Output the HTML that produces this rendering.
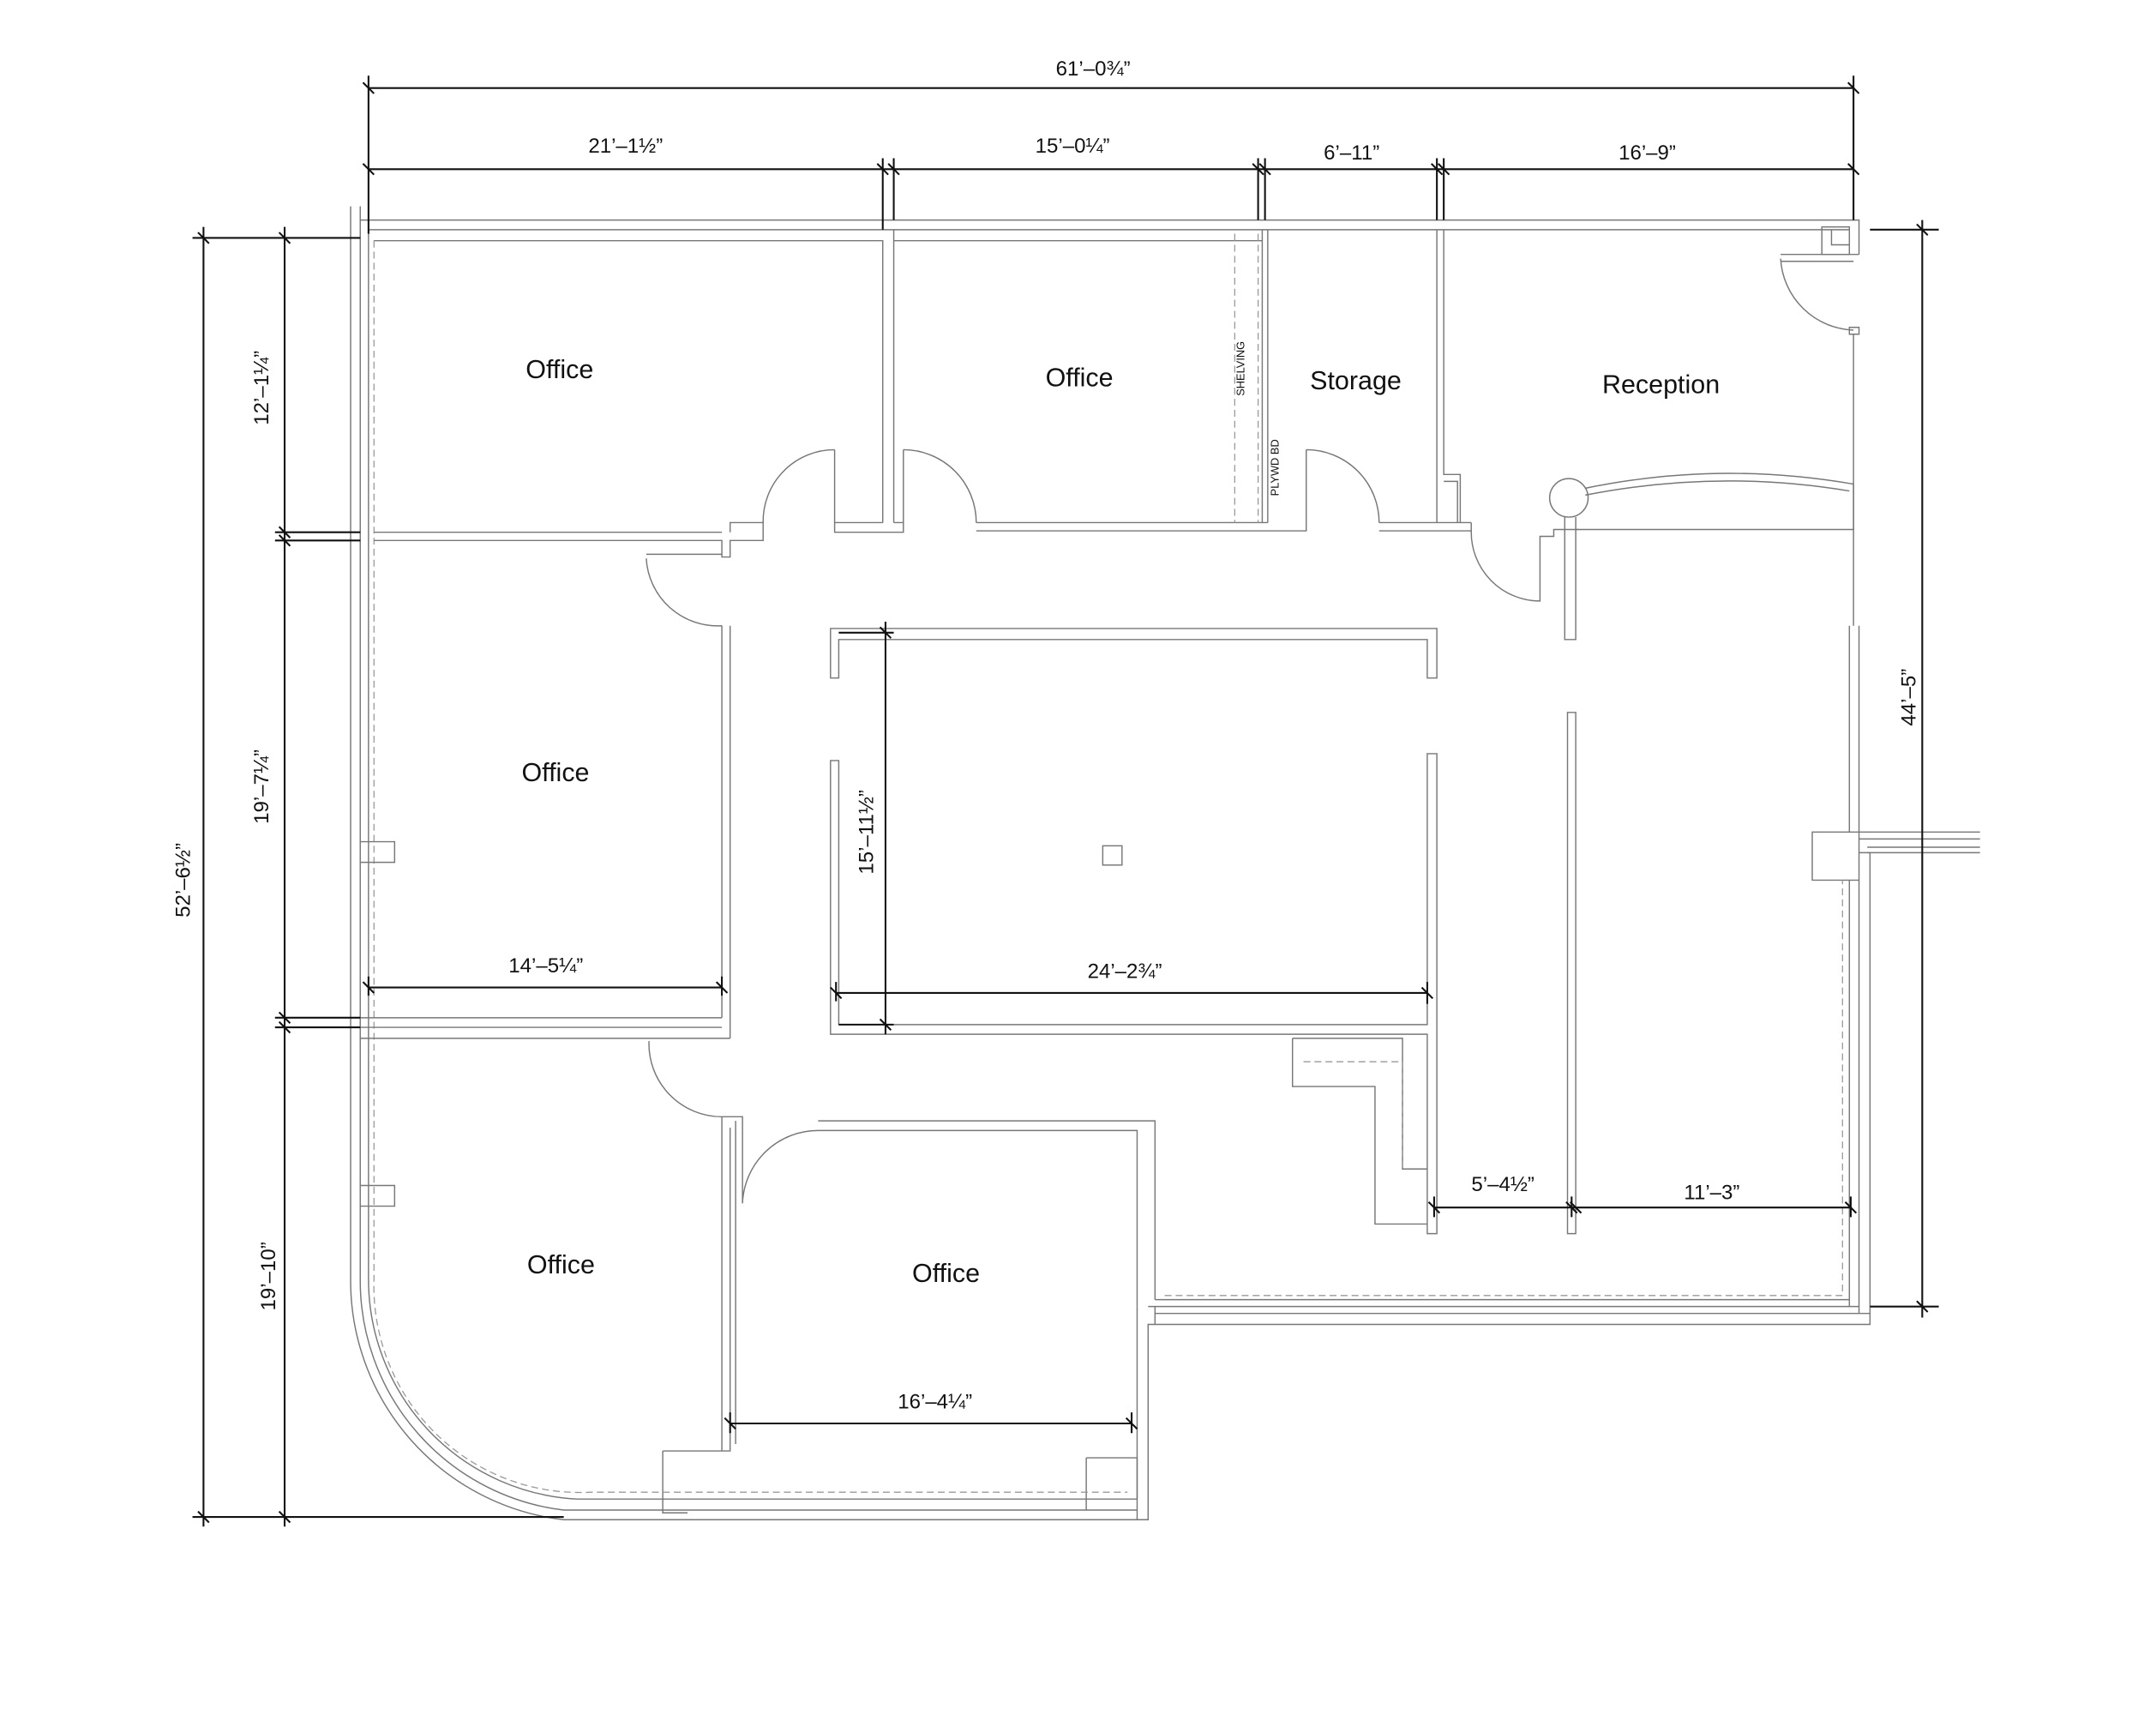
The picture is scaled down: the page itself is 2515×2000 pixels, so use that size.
<!DOCTYPE html>
<html><head><meta charset="utf-8"><style>
html,body{margin:0;padding:0;background:#fff;}
svg{display:block;}
text{font-family:"Liberation Sans",sans-serif;fill:#111;}
.w{fill:none;stroke:#777;stroke-width:0.9;}
.d{fill:none;stroke:#999;stroke-width:0.8;stroke-dasharray:5 3;}
.k{fill:none;stroke:#111;stroke-width:1.3;}
.t{fill:none;stroke:#111;stroke-width:1.3;}
.r{font-size:19px;}
.m{font-size:15px;}
</style></head><body>
<svg width="2515" height="2000" viewBox="0 0 1568 1247" preserveAspectRatio="none" xmlns="http://www.w3.org/2000/svg">
<g class="w">
<path d="M255,150 V930 A175,175 0 0 0 410,1105 H835 V963 H1360 V620"/>
<path d="M262,150 V930 A168,168 0 0 0 410,1098 H827"/>
<path d="M268,167 V930 A160,160 0 0 0 420,1090 H827"/>
<path d="M262,160 H1352 V185"/>
<path d="M268,167 H1345"/>
<path d="M1325,165 H1345 V185 H1325 Z M1332,167 V178 H1345"/>
<path d="M1295,185 H1352 M1295,190 H1348"/>
<path d="M1295,188 A55,55 0 0 0 1348,240 M1345,238 H1352 V243 H1345 Z"/>
<path d="M1348,243 V455 M1352,455 V605 M1345,455 V605"/>
<path d="M1318,605 H1352 V640 H1318 Z M1352,605 H1440 M1352,610 H1440 M1358,616 H1440 M1358,620 H1440"/>
<path d="M1345,640 V950 M1352,640 V955 M1360,620 H1352"/>
<path d="M840,945 H1345 M840,950 H1352 M840,955 H1360"/>
<path d="M827,950 V1090 M835,950 H840 V963"/>
<path d="M790,1060 H827 V1105 M790,1060 V1098"/>
<path d="M482,1055 V1100 H500"/>
</g>
<path class="d" d="M272,175 V930 A150,150 0 0 0 430,1085 H820"/>
<path class="d" d="M847,942 H1340 V640"/>
<g class="w">
<path d="M272,175 H642 V380 M650,167 V380 M642,380 H607 V387 H657 V380 H650"/>
<path d="M272,387 H525 M272,393 H525 V405 H531 V393 H555 V380 H531 V387"/>
<path d="M607,327 V380 M555,380 A52,52 0 0 1 607,327"/>
<path d="M650,175 H918 M657,327 V380 M657,327 A53,53 0 0 1 710,380"/>
<path d="M710,380 H922 M710,386 H950 V380"/>
<path d="M918,167 V380 M922,167 V380"/>
<path d="M950,327 V380 M950,327 A53,53 0 0 1 1003,380 M1003,380 H1070 M1003,386 H1070 V380"/>
<path d="M1045,167 V380 M1050,167 V345 H1062 V380 M1050,350 H1060 V380"/>
<path d="M1070,386 A50,50 0 0 0 1120,437 V390 H1130 V385 H1148"/>
<circle cx="1141" cy="362" r="14"/>
<path d="M1138,376 V465 H1146 V376"/>
<path d="M1153,355 Q1250,335 1348,352 V385 H1146 M1153,360 Q1250,341 1345,357"/>
<path d="M470,403 H525 M470,406 A52,52 0 0 0 525,455 M525,455 V740 M531,455 V755"/>
<path d="M262,740 H525 M262,747 H525 M262,755 H531"/>
<path d="M262,612 H287 V627 H262 M262,862 H287 V877 H262"/>
<path d="M472,757 A53,53 0 0 0 525,812 M525,812 V1055 M531,820 V1055 H482 M525,812 H540 V822 M535,815 V1050"/>
<path d="M540,822 V875 M540,875 A55,55 0 0 1 595,822 M595,815 H840 V945 M595,822 H827 V950"/>
<path d="M604,457 H1045 V493 H1038 V465 H610 V493 H604 Z"/>
<path d="M604,553 H610 V745 H1038 V548 H1045 V897 H1038 V752 H604 Z"/>
<path d="M940,755 H1020 V850 H1038 M940,755 V790 H1000 V890 H1038"/>
<path d="M1140,518 H1146 V897 H1140 Z"/>
<rect x="802" y="615" width="14" height="14"/>
</g>
<path class="d" d="M898,170 V380 M915,170 V380 M948,772 H1020 V850"/>
<text x="905" y="268" font-size="8" transform="rotate(-90 905 268)" text-anchor="middle" fill="#666">SHELVING</text>
<text x="930" y="340" font-size="8" transform="rotate(-90 930 340)" text-anchor="middle" fill="#666">PLYWD BD</text>
<text class="r" x="407" y="275" text-anchor="middle">Office</text>
<text class="r" x="785" y="281" text-anchor="middle">Office</text>
<text class="r" x="986" y="283" text-anchor="middle">Storage</text>
<text class="r" x="1208" y="286" text-anchor="middle">Reception</text>
<text class="r" x="404" y="568" text-anchor="middle">Office</text>
<text class="r" x="408" y="926" text-anchor="middle">Office</text>
<text class="r" x="688" y="932" text-anchor="middle">Office</text>
<g class="k">
<path d="M268,64 H1348 M268,123 H1348"/>
<path d="M268,55 V170 M642,115 V167 M650,115 V160 M915,115 V160 M920,115 V160 M1045,115 V160 M1050,115 V160 M1348,55 V160"/>
<path d="M140,173 H262 M200,387 H262 M200,393 H262 M200,740 H262 M200,747 H262 M140,1103 H410"/>
<path d="M148,165 V1110 M207,165 V1110"/>
<path d="M1360,167 H1410 M1360,950 H1410 M1398,160 V958"/>
<path d="M268,718 H525 M268,710 V724 M525,710 V724"/>
<path d="M608,722 H1038 M608,714 V728 M1038,714 V730"/>
<path d="M610,460 H650 M610,745 H650 M644,452 V752"/>
<path d="M1043,878 H1346 M1043,870 V885 M1143,870 V885 M1346,870 V885"/>
<path d="M531,1035 H823 M531,1027 V1042 M823,1027 V1042"/>
</g>
<g class="t">
<path d="M264,60 L272,68 M264,119 L272,127 M638,119 L646,127 M646,119 L654,127 M911,119 L919,127 M916,119 L924,127 M1041,119 L1049,127 M1046,119 L1054,127 M1344,60 L1352,68 M1344,119 L1352,127"/>
<path d="M144,169 L152,177 M203,169 L211,177 M203,383 L211,391 M203,389 L211,397 M203,736 L211,744 M203,743 L211,751 M144,1099 L152,1107 M203,1099 L211,1107"/>
<path d="M1394,163 L1402,171 M1394,946 L1402,954"/>
<path d="M264,714 L272,722 M521,714 L529,722 M604,718 L612,726 M1034,718 L1042,726 M640,456 L648,464 M640,741 L648,749"/>
<path d="M1039,874 L1047,882 M1139,874 L1147,882 M1142,874 L1150,882 M1342,874 L1350,882 M527,1031 L535,1039 M819,1031 L827,1039"/>
</g>
<g class="m">
<text x="795" y="55" text-anchor="middle">61’–0¾”</text>
<text x="455" y="111" text-anchor="middle">21’–1½”</text>
<text x="780" y="111" text-anchor="middle">15’–0¼”</text>
<text x="983" y="116" text-anchor="middle">6’–11”</text>
<text x="1198" y="116" text-anchor="middle">16’–9”</text>
<text x="397" y="707" text-anchor="middle">14’–5¼”</text>
<text x="818" y="711" text-anchor="middle">24’–2¾”</text>
<text x="1093" y="866" text-anchor="middle">5’–4½”</text>
<text x="1245" y="872" text-anchor="middle">11’–3”</text>
<text x="680" y="1024" text-anchor="middle">16’–4¼”</text>
<text x="0" y="0" text-anchor="middle" transform="translate(138,640) rotate(-90)">52’–6½”</text>
<text x="0" y="0" text-anchor="middle" transform="translate(195,282) rotate(-90)">12’–1¼”</text>
<text x="0" y="0" text-anchor="middle" transform="translate(195,572) rotate(-90)">19’–7¼”</text>
<text x="0" y="0" text-anchor="middle" transform="translate(200,928) rotate(-90)">19’–10”</text>
<text x="0" y="0" text-anchor="middle" transform="translate(635,605) rotate(-90)">15’–11½”</text>
<text x="0" y="0" text-anchor="middle" transform="translate(1393,507) rotate(-90)">44’–5”</text>
</g>
</svg>
</body></html>
